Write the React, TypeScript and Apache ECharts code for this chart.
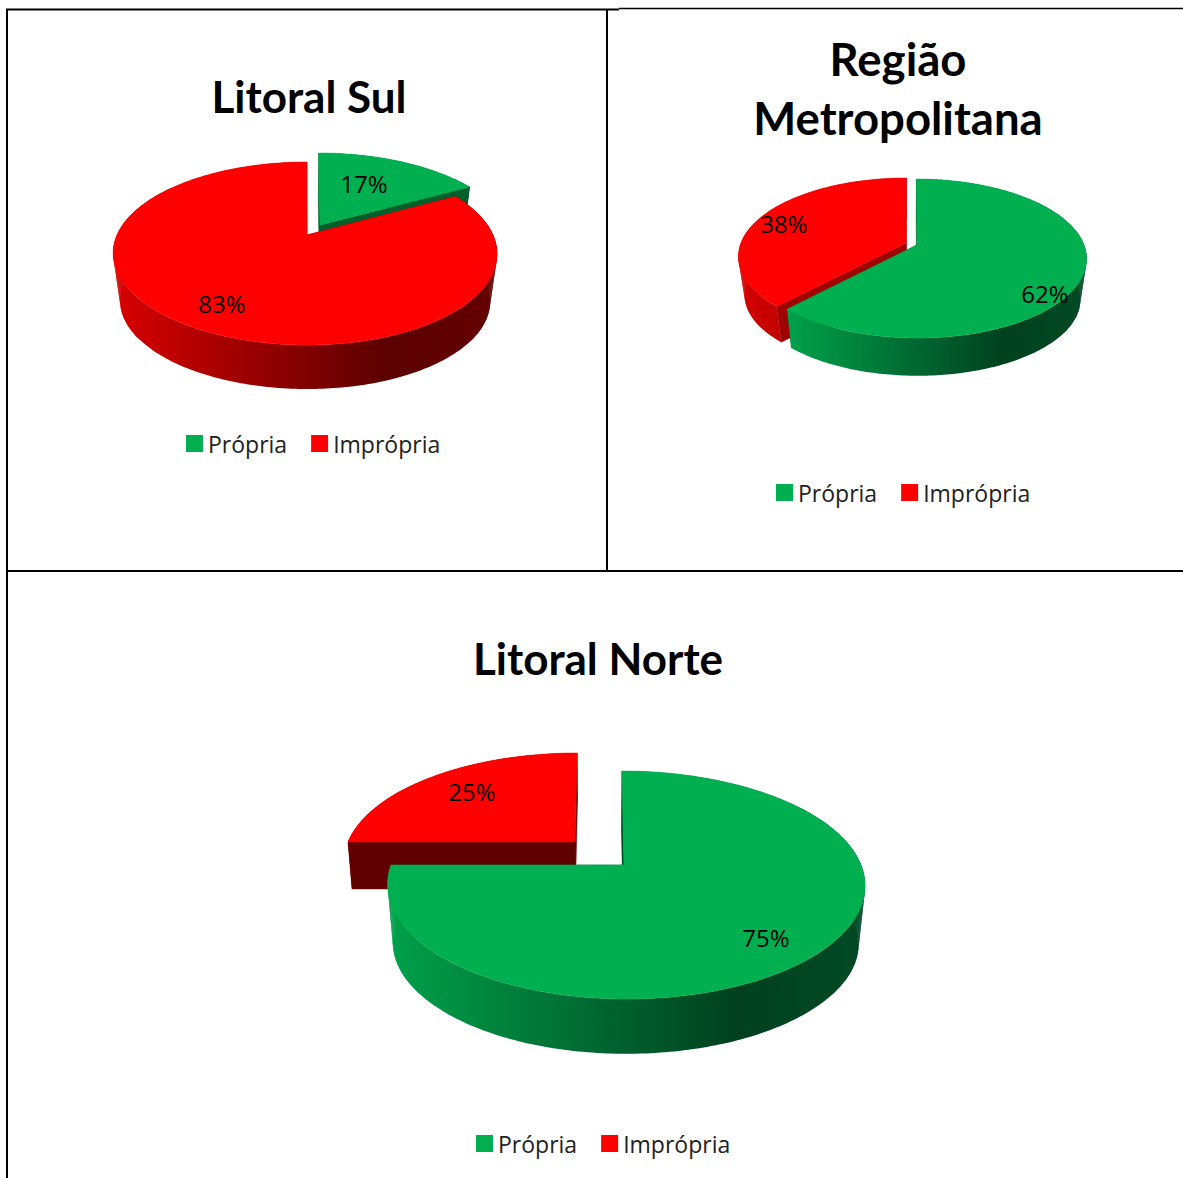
import React, { useEffect, useRef } from "react";
import * as echarts from "echarts";

const categories = ["Própria", "Imprópria"];
const regions = ["Litoral Sul", "Região\nMetropolitana", "Litoral Norte"];
const propriaValues = [17, 62, 75];
const impropriaValues = [83, 38, 25];

const GREEN = "#00B050";
const RED = "#FF0000";
const FONT = "'Open Sans', 'Noto Sans', sans-serif";

type Geo = {
  vx: number; vy: number; rx: number; far: number; near: number; dz: number; s: number; ox: number;
  vanish: number; face: string; gx0: number; gx1: number; lx: number; ly: number;
};

// Projection of each exploded slice, index per region: [própria, imprópria]
const geometry: { own: Geo; other: Geo; firstDrawn: 0 | 1; title: [number, number, number]; legend: [number, number] }[] = [
  {
    own: { vx: 320, vy: 225, rx: 188, far: 72, near: 108, dz: 46, s: 0.964, ox: 0, vanish: 305, face: "#005f2b", gx0: 320, gx1: 470, lx: 364, ly: 183 },
    other: { vx: 307, vy: 235, rx: 188, far: 73, near: 110, dz: 48, s: 0.964, ox: -2, vanish: 305, face: "#8c0000", gx0: 120, gx1: 490, lx: 222, ly: 303 },
    firstDrawn: 0, title: [309, 66, 44], legend: [186, 432],
  },
  {
    own: { vx: 917, vy: 245, rx: 167, far: 66, near: 93, dz: 41, s: 0.965, ox: 0, vanish: 910, face: "#00602c", gx0: 791, gx1: 1081, lx: 1045, ly: 293 },
    other: { vx: 906, vy: 243, rx: 165, far: 65, near: 92, dz: 38, s: 0.965, ox: 0, vanish: 910, face: "#a00000", gx0: 738, gx1: 1087, lx: 784, ly: 223 },
    firstDrawn: 1, title: [898, 29, 45.5], legend: [776, 481],
  },
  {
    own: { vx: 624, vy: 865, rx: 235, far: 94, near: 134, dz: 58, s: 0.976, ox: 2, vanish: 600, face: "#004f26", gx0: 393, gx1: 858, lx: 766, ly: 937 },
    other: { vx: 575, vy: 842, rx: 227, far: 89, near: 128, dz: 47, s: 0.984, ox: 0, vanish: 600, face: "#600000", gx0: 352, gx1: 575, lx: 472, ly: 791 },
    firstDrawn: 1, title: [598, 628, 44], legend: [476, 1132],
  },
];

function proj(g: Geo, deg: number, bottom: boolean): number[] {
  const t = (deg * Math.PI) / 180;
  const X = Math.sin(t);
  const Y = -Math.cos(t);
  const k = (g.near - g.far) / (g.near + g.far);
  const a = g.near * (1 - k);
  const w = 1 - k * Y;
  const lean = (g.vx - g.vanish) * 0.1;
  const x0 = (g.rx * X + lean * Y) / w + g.ox * X * X;
  const y0 = (a * Y) / w;
  if (!bottom) return [g.vx + x0, g.vy + y0];
  return [g.vanish + (g.vx + x0 - g.vanish) * g.s, g.vy + g.dz + y0 * g.s];
}

function apex(g: Geo, bottom: boolean): number[] {
  if (!bottom) return [g.vx, g.vy];
  return [g.vanish + (g.vx - g.vanish) * g.s, g.vy + g.dz];
}

function makeRender(g: Geo, color: string, stops: [number, string][]) {
  return (_p: any, api: any) => {
    const startPct = api.value(0);
    const value = api.value(1);
    const a0 = startPct * 3.6;
    const a1 = (startPct + value) * 3.6;
    const topArc: number[][] = [];
    const botArc: number[][] = [];
    const degs: number[] = [];
    const n = Math.max(2, Math.ceil(a1 - a0));
    for (let i = 0; i <= n; i++) {
      const d = a0 + ((a1 - a0) * i) / n;
      degs.push(d);
      topArc.push(proj(g, d, false));
      botArc.push(proj(g, d, true));
    }
    const grad = {
      type: "linear", global: true, x: g.gx0, y: 0, x2: g.gx1, y2: 0,
      colorStops: stops.map(([offset, c]) => ({ offset, color: c })),
    };
    const face = (d: number) => ({
      type: "polygon",
      shape: { points: [apex(g, false), proj(g, d, false), proj(g, d, true), apex(g, true)] },
      style: { fill: g.face, stroke: g.face, lineWidth: 0.5 },
    });
    const rad = Math.PI / 180;
    const startFront = -Math.sin(a0 * rad) > 1e-6;
    const endFront = Math.sin(a1 * rad) > 1e-6;
    // Ruled quads where the wall turns away, so the side edges join top and bottom rims.
    const sideQuads: any[] = [];
    for (let i = 0; i < n; i++) {
      if (Math.abs(Math.sin(degs[i] * rad)) < 0.8) continue;
      sideQuads.push({
        type: "polygon",
        shape: { points: [topArc[i], topArc[i + 1], botArc[i + 1], botArc[i]] },
        style: { fill: grad },
      });
    }
    return {
      type: "group",
      children: [
        ...(startFront ? [] : [face(a0)]),
        ...(endFront ? [] : [face(a1)]),
        {
          type: "polygon",
          shape: { points: [...topArc, ...botArc.slice().reverse()] },
          style: { fill: grad },
        },
        ...sideQuads,
        ...(startFront ? [face(a0)] : []),
        ...(endFront ? [face(a1)] : []),
        {
          type: "polygon",
          shape: { points: [apex(g, false), ...topArc] },
          style: { fill: color, stroke: color, lineWidth: 0.5 },
        },
        {
          type: "text",
          x: g.lx,
          y: g.ly,
          style: {
            text: `${value}%`, fill: "#000", fontFamily: FONT, fontSize: 24,
            textAlign: "center", textVerticalAlign: "middle",
          },
        },
      ],
    };
  };
}

const greenStops: [number, string][] = [[0, "#00A04A"], [0.74, "#00401F"], [1, "#004A24"]];
const redStops: [number, string][] = [[0, "#D60000"], [0.72, "#5C0000"], [1, "#640000"]];

function buildSeries() {
  const out: any[] = [];
  regions.forEach((_r, i) => {
    const geo = geometry[i];
    const own = {
      type: "custom", name: categories[0], coordinateSystem: "none",
      itemStyle: { color: GREEN }, silent: true,
      renderItem: makeRender(geo.own, GREEN, greenStops),
      data: [[0, propriaValues[i]]],
    };
    const other = {
      type: "custom", name: categories[1], coordinateSystem: "none",
      itemStyle: { color: RED }, silent: true,
      renderItem: makeRender(geo.other, RED, redStops),
      data: [[propriaValues[i], impropriaValues[i]]],
    };
    if (geo.firstDrawn === 0) out.push(own, other);
    else out.push(other, own);
  });
  return out;
}

const borderLine = (x1: number, y1: number, x2: number, y2: number, w = 2) => ({
  type: "line", shape: { x1, y1, x2, y2 }, style: { stroke: "#000", lineWidth: w }, silent: true,
});

export default function App() {
  const ref = useRef<HTMLDivElement>(null);
  useEffect(() => {
    const chart = echarts.init(ref.current!, undefined, { renderer: "svg" });
    chart.setOption({
      animation: false,
      backgroundColor: "#fff",
      title: regions.map((text, i) => ({
        text,
        left: geometry[i].title[0],
        top: geometry[i].title[1],
        textAlign: "center",
        padding: 0,
        textStyle: { fontFamily: "Lato, sans-serif", fontWeight: "bold", fontSize: geometry[i].title[2], lineHeight: 59, color: "#000" },
      })),
      legend: regions.map((_r, i) => ({
        data: categories,
        left: geometry[i].legend[0],
        top: geometry[i].legend[1],
        orient: "horizontal",
        padding: 0,
        itemWidth: 17,
        itemHeight: 17,
        itemGap: 24,
        icon: "rect",
        selectedMode: false,
        textStyle: { fontFamily: FONT, fontSize: 23, color: "#222" },
      })),
      series: buildSeries(),
      graphic: [
        borderLine(6, 9.5, 619, 9.5),
        borderLine(619, 8.5, 1183, 8.5, 1.5),
        borderLine(7, 9, 7, 1178),
        borderLine(607, 9, 607, 571),
        borderLine(6, 571, 1183, 571),
      ],
    });
    return () => chart.dispose();
  }, []);
  return (
    <div
      ref={ref}
      style={{ position: "absolute", left: 0, top: 0, width: 1183, height: 1178 }}
    />
  );
}
